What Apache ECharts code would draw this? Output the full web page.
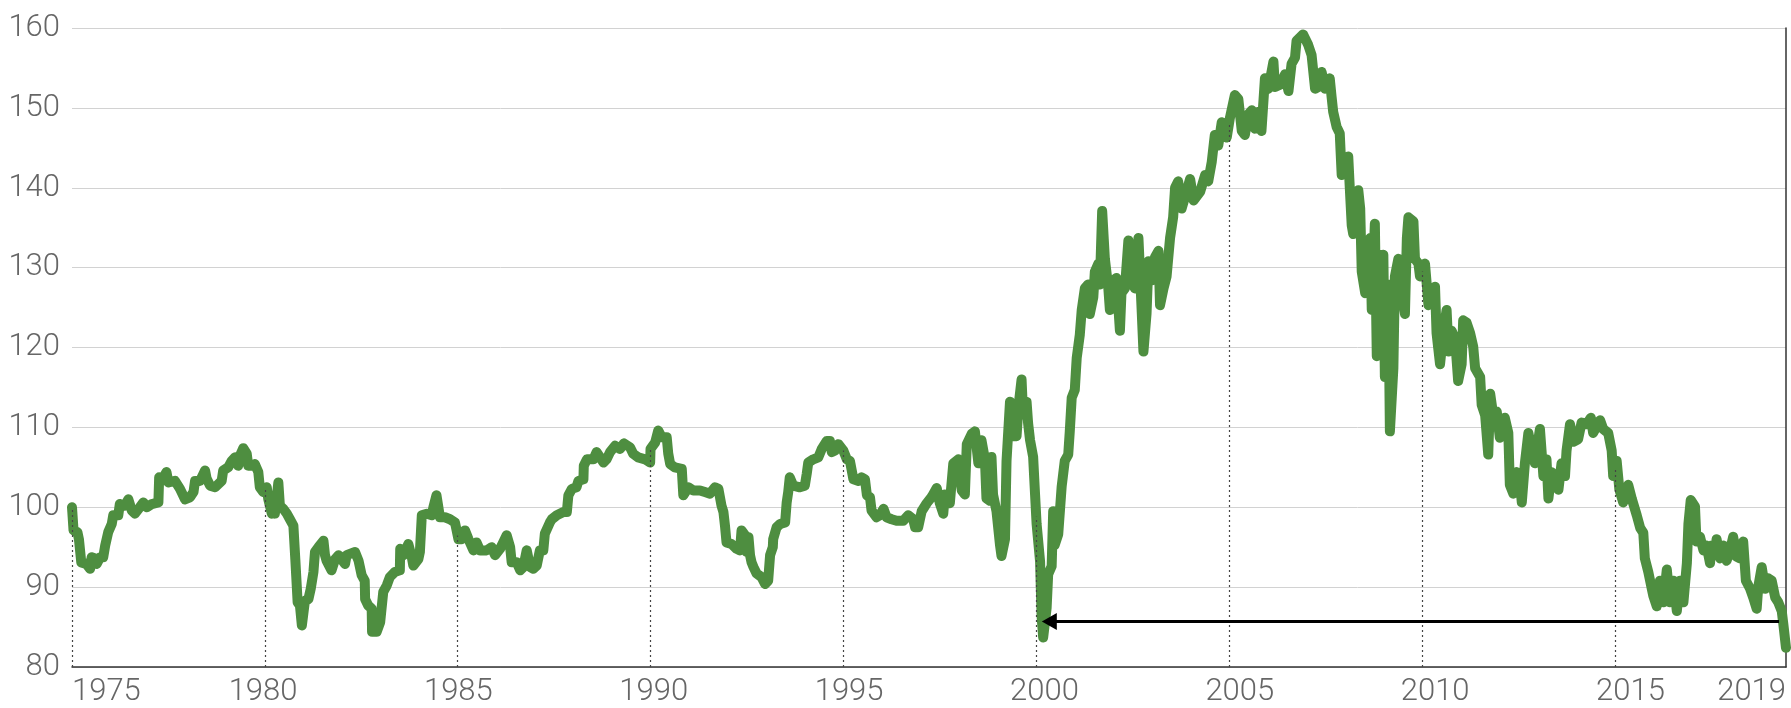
<!DOCTYPE html>
<html>
<head>
<meta charset="utf-8">
<script src="https://cdn.jsdelivr.net/npm/echarts@6/dist/echarts.min.js"></script>
<style>
html,body{margin:0;padding:0;background:#fff;}
#chart{width:1791px;height:708px;}
</style>
</head>
<body>
<div id="chart"></div>
<script>
// ---- data ----
const dates = [
1975.00,1975.04,1975.14,1975.18,1975.24,1975.37,1975.47,1975.51,1975.60,1975.64,1975.73,1975.81,1975.86,1975.94,
1976.03,1976.07,1976.20,1976.24,1976.37,1976.46,1976.55,1976.63,1976.76,1976.85,1976.94,
1977.07,1977.24,1977.26,1977.34,1977.45,1977.50,1977.67,1977.80,1977.93,
1978.06,1978.15,1978.19,1978.32,1978.45,1978.49,1978.58,1978.71,1978.88,1978.92,
1979.05,1979.14,1979.23,1979.31,1979.36,1979.44,1979.53,1979.57,1979.66,1979.74,1979.83,1979.87,1979.96,
1980.05,1980.09,1980.13,1980.18,1980.22,1980.26,1980.35,1980.39,1980.48,1980.57,1980.65,1980.74,1980.79,1980.82,1980.85,1980.91,1980.96,
1981.04,1981.13,1981.19,1981.26,1981.30,1981.39,1981.52,1981.56,1981.60,1981.73,1981.82,1981.91,
1982.08,1982.12,1982.34,1982.43,1982.51,1982.59,1982.60,1982.68,1982.77,1982.78,1982.90,1982.99,
1983.03,1983.07,1983.16,1983.24,1983.37,1983.50,1983.51,1983.59,1983.72,1983.81,1983.85,1983.98,
1984.02,1984.07,1984.20,1984.33,1984.37,1984.45,1984.54,1984.67,1984.80,1984.93,
1985.02,1985.10,1985.19,1985.28,1985.41,1985.49,1985.58,1985.75,1985.88,1985.97,
1986.10,1986.18,1986.27,1986.36,1986.40,1986.53,1986.62,1986.70,1986.79,1986.88,1986.96,
1987.05,1987.13,1987.22,1987.26,1987.39,1987.44,1987.57,1987.74,1987.83,1987.87,1987.96,
1988.08,1988.13,1988.26,1988.27,1988.35,1988.52,1988.60,1988.69,1988.78,1988.86,1988.95,
1989.08,1989.21,1989.31,1989.47,1989.55,1989.68,1989.86,1989.99,
1990.00,1990.12,1990.20,1990.29,1990.42,1990.46,1990.51,1990.63,1990.81,1990.85,1990.98,
1991.11,1991.28,1991.41,1991.54,1991.67,1991.76,1991.84,1991.89,1991.93,1991.97,
1992.10,1992.23,1992.32,1992.36,1992.45,1992.49,1992.54,1992.58,1992.62,1992.67,1992.75,1992.88,1992.97,
1993.05,1993.10,1993.17,1993.18,1993.27,1993.36,1993.49,1993.53,1993.57,1993.61,1993.70,1993.87,
1994.00,1994.05,1994.09,1994.22,1994.35,1994.44,1994.57,1994.65,1994.70,1994.78,1994.87,
1995.00,1995.09,1995.17,1995.26,1995.39,1995.47,1995.56,1995.61,1995.69,1995.73,1995.86,1995.95,
1996.04,1996.12,1996.25,1996.38,1996.55,1996.68,1996.81,1996.86,1996.94,
1997.03,1997.16,1997.29,1997.42,1997.50,1997.59,1997.63,1997.76,1997.85,1997.98,
1998.07,1998.15,1998.20,1998.33,1998.41,1998.50,1998.58,1998.67,1998.71,1998.80,1998.84,1998.88,1998.97,
1999.06,1999.10,1999.19,1999.23,1999.32,1999.40,1999.49,1999.54,1999.62,1999.66,1999.75,1999.79,1999.84,1999.92,1999.97,
2000.01,2000.10,2000.14,2000.18,2000.27,2000.31,2000.40,2000.44,2000.48,2000.57,2000.66,2000.74,2000.83,2000.87,2000.92,
2001.00,2001.05,2001.13,2001.18,2001.26,2001.35,2001.39,2001.48,2001.52,2001.61,2001.65,2001.71,2001.78,2001.87,2001.91,
2002.00,2002.08,2002.17,2002.21,2002.30,2002.39,2002.47,2002.56,2002.65,2002.69,2002.78,2002.86,2002.91,2002.99,
2003.08,2003.17,2003.21,2003.30,2003.38,2003.47,2003.55,2003.60,2003.68,2003.77,2003.86,2003.99,
2004.08,2004.25,2004.38,2004.46,2004.55,2004.63,2004.72,2004.81,2004.94,
2005.02,2005.15,2005.24,2005.33,2005.41,2005.50,2005.59,2005.67,2005.76,2005.84,2005.93,
2006.02,2006.15,2006.19,2006.32,2006.45,2006.54,2006.62,2006.71,2006.75,2006.92,
2007.05,2007.14,2007.23,2007.31,2007.40,2007.49,2007.57,2007.61,2007.66,2007.70,2007.79,2007.87,2007.92,
2008.00,2008.09,2008.13,2008.18,2008.22,2008.31,2008.35,2008.40,2008.44,2008.53,2008.61,2008.66,2008.70,2008.78,2008.83,2008.91,2008.96,
2009.00,2009.04,2009.13,2009.17,2009.26,2009.30,2009.39,2009.47,2009.56,2009.61,2009.65,2009.78,2009.82,2009.91,2009.95,
2010.08,2010.17,2010.25,2010.34,2010.38,2010.47,2010.56,2010.64,2010.69,2010.77,2010.86,2010.94,
2011.03,2011.07,2011.16,2011.25,2011.33,2011.38,2011.51,2011.55,2011.64,2011.72,2011.77,2011.85,2011.94,
2012.02,2012.07,2012.15,2012.24,2012.28,2012.37,2012.46,2012.54,2012.59,2012.67,2012.76,2012.85,2012.93,
2013.06,2013.15,2013.23,2013.28,2013.36,2013.45,2013.54,2013.62,2013.71,2013.75,2013.84,2013.93,
2014.05,2014.14,2014.27,2014.38,2014.44,2014.62,2014.70,2014.83,2014.92,2014.96,
2015.05,2015.12,2015.22,2015.35,2015.44,2015.57,2015.66,2015.74,2015.78,2015.87,2015.96,
2016.00,2016.09,2016.17,2016.26,2016.35,2016.43,2016.52,2016.61,2016.69,2016.78,2016.87,2016.91,2016.97,
2017.08,2017.12,2017.21,2017.30,2017.38,2017.47,2017.51,2017.60,2017.64,2017.73,2017.82,2017.90,2017.99,
2018.07,2018.16,2018.25,2018.33,2018.40,2018.51,2018.59,2018.68,2018.72,2018.81,2018.90,2018.98,
2019.07,2019.16,2019.24,2019.33,2019.37,2019.44
];
const values = [
100,97.1,96.9,96,93.1,92.9,92.3,93.75,93.6,92.9,93.75,93.75,95.2,96.9,
97.9,99,99,100.4,100.2,101,99.6,99.2,100,100.6,100,
100.4,100.6,103.75,103.5,104.4,103.1,103.3,102.3,101,
101.25,101.9,103.3,103.3,104.6,103.6,102.7,102.5,103.3,104.6,
105,105.8,106.25,105.2,106.5,107.4,106.7,105.2,105.2,105.4,104.4,102.5,101.9,
102.5,101,100.2,99.2,101,99.2,103.1,100.2,99.8,99.2,98.5,97.7,93.5,93.3,88.1,87.7,85.2,
88.3,88.5,89.8,91.9,94.4,95,95.8,94,93.3,92.1,93.5,94,
92.9,94,94.4,93.3,91.5,90.8,88.5,87.7,87.3,84.4,84.4,85.6,
85.8,89.4,90.2,91.25,91.9,92.1,94.8,94,95.4,93.75,92.7,93.5,
94.4,99,99.2,99,100,101.5,98.75,98.75,98.5,98.1,
96,96,97.1,96,94.6,95.6,94.6,94.6,95,94,
94.8,95.6,96.5,95,93.1,93.1,92.1,92.5,94.6,92.5,92.3,
92.7,94.6,94.6,96.7,98.1,98.5,99,99.4,99.4,101.5,102.3,
102.5,103.3,103.5,105.2,106,106,106.9,106.25,105.6,106,106.9,
107.7,107.3,108,107.5,106.7,106.25,106,105.6,
107.3,108.1,109.6,108.75,108.75,106.7,105.4,105,104.8,101.5,102.5,
102.1,102.1,101.9,101.7,102.5,102.3,100.2,99.4,97.7,95.6,
95.4,94.8,94.6,97.1,96.5,94.4,96.25,94,93.1,92.5,91.7,91.25,90.4,
90.8,94,95,96,97.5,97.9,98.1,100.6,101.9,103.75,102.7,102.5,
102.7,104.2,105.6,106,106.25,107.3,108.3,108.3,106.9,107.1,107.9,
107.1,106,105.8,103.5,103.3,103.75,103.5,101.5,101.25,99.6,98.75,99,
99.8,98.75,98.5,98.3,98.3,99,98.5,97.5,97.5,
99.5,100.5,101.3,102.4,100.5,99.2,101.6,100.5,105.5,106,
102.1,101.6,107.9,109.2,109.5,105.5,108.4,106,101.1,100.8,106.3,101.6,99.5,
95.3,93.9,96,105.8,113.2,108.9,108.9,112.6,116,111.6,113.2,110.5,108.4,106.3,101.6,
97.9,93.2,86.3,83.7,87.4,91.6,92.6,99.5,95.3,96.6,102.6,105.8,106.6,109.5,113.7,
114.7,118.7,121.6,124.7,127.4,127.9,124.2,126.3,129.5,130.5,127.9,137.1,131.1,127.4,124.7,
128.4,128.7,122.1,126.8,127.4,133.4,128.4,127.4,133.7,129.5,119.5,124.2,130.8,128.4,
131.3,132.1,125.3,127.4,128.9,133.7,136.3,140,140.8,137.4,138.9,141.1,
138.4,139.5,141.6,140.8,143.2,146.6,145.3,148.2,146.3,
148.7,151.6,151.1,147.1,146.6,149.2,149.7,147.4,149.5,147.1,153.7,
152.4,155.8,152.6,152.9,154.2,152.1,155.5,156.3,158.4,159.2,
157.9,156.6,152.4,152.6,154.5,152.4,153.2,153.7,151.3,149.5,147.6,146.8,141.6,
142.6,143.9,140,135.3,134.2,135.8,139.7,137.4,129.5,126.8,132.1,133.7,124.7,135.5,118.9,131.6,127.4,
131.6,116.3,127.9,109.5,117.4,128.9,131.1,127.4,124.2,133.7,136.3,135.8,131.1,130.5,128.9,
130.5,125.3,126.3,127.6,121.8,117.9,122.1,124.7,119.5,122.1,121.1,115.8,
117.9,123.4,123.1,121.8,120.1,117.4,116.3,112.8,111.5,106.6,114.2,111.5,112,
108.7,110.9,111.2,109.3,102.8,101.7,104.4,103.3,100.6,105.5,109.3,107.1,105.5,
109.8,103.9,106,101.1,104.4,103.9,102.2,105.5,103.9,107.1,110.4,108.2,
108.5,110.6,110.4,111.2,109.3,110.9,109.8,109.3,107.1,103.9,
105.8,102.2,100.6,102.8,101.1,99,97.4,96.8,93.6,91.9,89.8,
88.9,87.6,90.8,88.1,92.2,88.1,90.8,87,90.8,88.1,93,97.9,100.9,
100.1,95.7,96.3,94.6,95.2,93,95.2,94.1,96,93.6,95.2,93.3,94.6,
96.3,93.8,93.6,95.7,90.8,89.8,88.7,87.3,90,92.5,89.8,91.1,
90.8,88.7,88.1,87,85.4,82.4
];
const guideYears = [1975, 1980, 1985, 1990, 1995, 2000, 2005, 2010, 2015];
const yTicks = [80, 90, 100, 110, 120, 130, 140, 150, 160];
const arrowFrom = [2019.26, 85.7];
const arrowTo = [2000.34, 85.7];

// ---- build ----
const seriesData = dates.map((d, i) => [d, values[i]]);
function valueAt(t) {
  for (let i = 0; i < dates.length - 1; i++) {
    if (dates[i] <= t && t <= dates[i + 1]) {
      const f = (t - dates[i]) / (dates[i + 1] - dates[i]);
      return values[i] + f * (values[i + 1] - values[i]);
    }
  }
  return values[0];
}
const guideLines = guideYears.map(y => [{ coord: [y, yTicks[0]] }, { coord: [y, valueAt(y)] }]);

const FONT = 'Roboto';
const labelStyle = { fontFamily: FONT, fontWeight: 300, fontSize: 31, color: '#666666' };

const chart = echarts.init(document.getElementById('chart'), null, { renderer: 'canvas' });
chart.setOption({
  animation: false,
  backgroundColor: '#ffffff',
  grid: { left: 72, right: 5, top: 28, bottom: 40, containLabel: false },
  xAxis: [
    {
      type: 'value', min: dates[0], max: dates[dates.length - 1],
      axisLine: { show: true, lineStyle: { color: '#333333', width: 1.5 } },
      axisTick: { show: false }, axisLabel: { show: false }, splitLine: { show: false }
    },
    {
      type: 'value', min: 1975.111, max: 2018.98, splitNumber: 9,
      position: 'bottom',
      axisLine: { show: false }, axisTick: { show: false }, splitLine: { show: false },
      axisLabel: Object.assign({
        margin: 10, showMinLabel: true, showMaxLabel: true,
        alignMinLabel: 'left', alignMaxLabel: 'right',
        formatter: v => String(Math.round(v))
      }, labelStyle)
    }
  ],
  yAxis: [
    {
      type: 'value', min: yTicks[0], max: yTicks[yTicks.length - 1], interval: 10,
      axisLine: { show: false }, axisTick: { show: false },
      splitLine: { show: true, lineStyle: { color: '#d2d2d2', width: 1 } },
      axisLabel: Object.assign({ margin: 12 }, labelStyle)
    },
    {
      type: 'value', position: 'right', min: yTicks[0], max: yTicks[yTicks.length - 1], interval: 10,
      axisLine: { show: true, lineStyle: { color: '#333333', width: 1.5 } },
      axisTick: { show: false }, axisLabel: { show: false }, splitLine: { show: false }
    }
  ],
  series: [
    {
      type: 'line', name: 'guides', data: [], z: 1, xAxisIndex: 0, yAxisIndex: 0,
      markLine: {
        silent: true, symbol: ['none', 'none'], label: { show: false }, animation: false,
        lineStyle: { color: '#444444', width: 1.2, type: [2, 3] },
        emphasis: { disabled: true },
        data: guideLines
      }
    },
    {
      type: 'line', name: 'index', data: seriesData, z: 2, xAxisIndex: 0, yAxisIndex: 0,
      showSymbol: false, symbol: 'none', smooth: false,
      lineStyle: { color: '#4e8e40', width: 10, join: 'round', cap: 'round' },
      emphasis: { disabled: true }
    },
    {
      type: 'line', name: 'arrow', data: [], z: 3, xAxisIndex: 0, yAxisIndex: 0,
      markLine: {
        silent: true, symbol: ['none', 'triangle'], symbolSize: [17, 15],
        label: { show: false }, animation: false,
        lineStyle: { color: '#000000', width: 3, type: 'solid' },
        itemStyle: { color: '#000000' },
        emphasis: { disabled: true },
        data: [[{ coord: arrowFrom }, { coord: arrowTo }]]
      }
    }
  ]
});
</script>
</body>
</html>
